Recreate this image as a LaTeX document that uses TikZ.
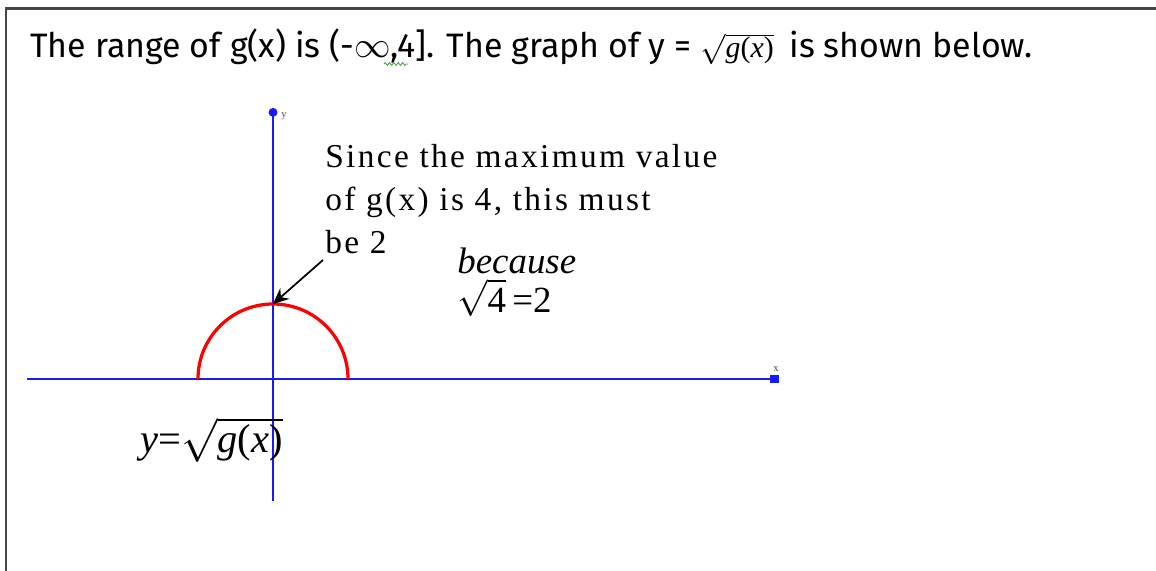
\documentclass[tikz,border=0pt]{standalone}
\usepackage{fontspec}
\setmainfont{Liberation Serif}
\newfontfamily\titlefont{Fira Sans}
\newfontfamily\spacedfont[LetterSpace=7]{Liberation Serif}
\usepackage{xcolor}
\definecolor{AxisBlue}{RGB}{25,25,255}
\definecolor{CurveRed}{RGB}{255,0,0}
\definecolor{FrameGray}{RGB}{70,70,70}
\definecolor{SpellGreen}{RGB}{70,170,70}
\usetikzlibrary{
  arrows.meta,
  positioning,
  decorations.pathmorphing
}
\newcommand{\rootof}[1]{\ensuremath{\sqrt{\mbox{\rmfamily #1}}}}
\tikzset{
  % Coordinate axes
  axisline/.style={draw=AxisBlue, line width=0.04cm},
  axislabel/.style={font=\fontsize{6}{7}\selectfont, text=black!70, inner sep=1pt},
  % Graph of the function
  curve/.style={draw=CurveRed, line width=0.065cm},
  % Pointer arrow
  pointer/.style={-{Stealth[length=9pt,width=8pt,inset=3pt]}, line width=0.035cm, black},
  % Text styles
  note/.style={font=\spacedfont\fontsize{19}{24.4}\selectfont, align=left, inner sep=0pt, anchor=base west},
  mathlabel/.style={font=\fontsize{21}{24}\selectfont, inner sep=0pt, anchor=base west},
  titletext/.style={font=\titlefont\fontsize{19.3}{22}\selectfont, inner sep=0pt, anchor=base west},
}

\begin{document}
\begin{tikzpicture}[x=0.02cm, y=-0.02cm]
  \useasboundingbox (0,0) rectangle (1156,571);

  %% Frame (open to the right and below)
  \draw[FrameGray, line width=0.06cm] (6,571) -- (6,9) -- (1156,9);

  %% Title
  \node[titletext] (title) at (30,58)
    {The range of g(x) is (-$\infty$,4]. The graph of y = \fontsize{17}{20}\selectfont\rootof{\textit{g}(\textit{x})}\ \ \fontsize{19.3}{22}\selectfont is shown below.};
  \draw[SpellGreen, line width=0.5pt, decorate,
        decoration={zigzag, segment length=2.5pt, amplitude=0.8pt}]
    (384,64) -- (408,64);

  %% Axes
  \coordinate (O) at (273,379);
  \coordinate (xmin) at (27,379);
  \coordinate (xmax) at (779,379);
  \coordinate (ymin) at (273,501);
  \coordinate (ymax) at (273,108);
  \draw[axisline, -{Square[length=5pt,width=5pt]}] (xmin) -- (xmax);
  \draw[axisline, -{Circle[length=5pt]}] (ymin) -- (ymax);
  \node[axislabel] (ylbl) at (284,116) {y};
  \node[axislabel] (xlbl) at (776,369) {x};

  %% Semicircle of radius 2
  \draw[curve] (198,379) arc[start angle=180, end angle=360, radius=75];
  \coordinate (top) at (273,304);

  %% Explanation (anchored on the baseline of its last line)
  \node[note] (expl) at (325,253)
    {Since the maximum value\\of g(x) is 4, this must\\be 2};
  \coordinate (tail) at (323,260);
  \draw[pointer] (tail) -- (top);

  \node[mathlabel] (because) at (457,273) {\textit{because}};
  \node[mathlabel] (root) at (457,312) {\rootof{4}\,=2};

  %% Function label
  \node[mathlabel, font=\fontsize{23}{26}\selectfont] (fname) at (140,452)
    {\textit{y}=\rootof{\textit{g}(\textit{x})}};
\end{tikzpicture}
\end{document}
